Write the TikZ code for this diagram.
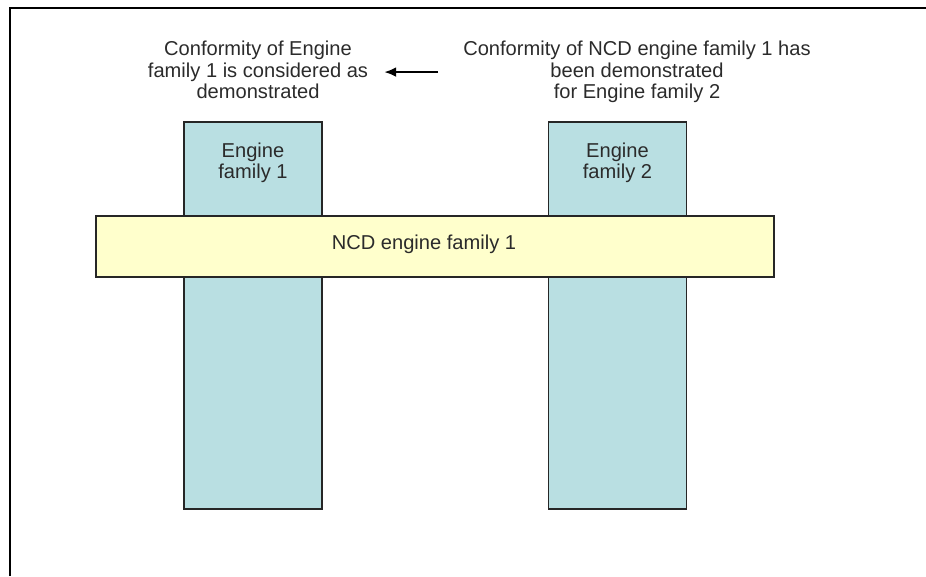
\documentclass[tikz,border=0pt]{standalone}
\usepackage{tikz}
\usepackage{xcolor}
\usepackage{fontspec}
\setmainfont{Liberation Sans}
\usetikzlibrary{positioning,arrows.meta}

\definecolor{engineblue}{HTML}{B9DFE2}
\definecolor{ncdyellow}{HTML}{FFFFCC}
\definecolor{textgray}{HTML}{2B2B2B}

\begin{document}
\begin{tikzpicture}[x=1pt,y=-1pt,
every node/.style = {font=\fontsize{20.1}{21.5}\selectfont, text=textgray, inner sep=0pt},
family/.style 	= {draw=black!85, line width=1.4pt, fill=engineblue,
		minimum width=138pt, minimum height=387pt},
ncdbar/.style 	= {draw=black!85, line width=1.4pt, fill=ncdyellow,
		minimum width=678pt, minimum height=61pt},
note/.style 	= {align=center, anchor=north},
pointer/.style 	= {-{Latex[length=12pt,width=10pt]}, line width=2.3pt, black}]
%\draw[help lines] (0,0) grid (926,576);
\useasboundingbox (0,0) rectangle (926,576);
\draw[line width=2pt] (10,576) -- (10,8) -- (926,8);

\node[family] (fam1) at (253,315.5) {};
\node[family] (fam2) at (617.5,315.5) {};
\node[align=center, below=21pt of fam1.north] (fam1-text) {Engine\\family 1};
\node[align=center, below=21pt of fam2.north] (fam2-text) {Engine\\family 2};

\begin{scope}
\node[ncdbar] (ncd) at (435,246.5) {};
\node (ncd-text) at (424,244) {NCD engine family 1};
\end{scope}

\node[note] (note1) at (258,41) {Conformity of Engine\\family 1 is considered as\\demonstrated};
\node[note] (note2) at (637,41) {Conformity of NCD engine family 1 has\\been demonstrated\\for Engine family 2};

\draw[pointer, shorten <=25pt, shorten >=16pt] (note2.west) -- (note2.west -| note1.east);
\end{tikzpicture}
\end{document}
